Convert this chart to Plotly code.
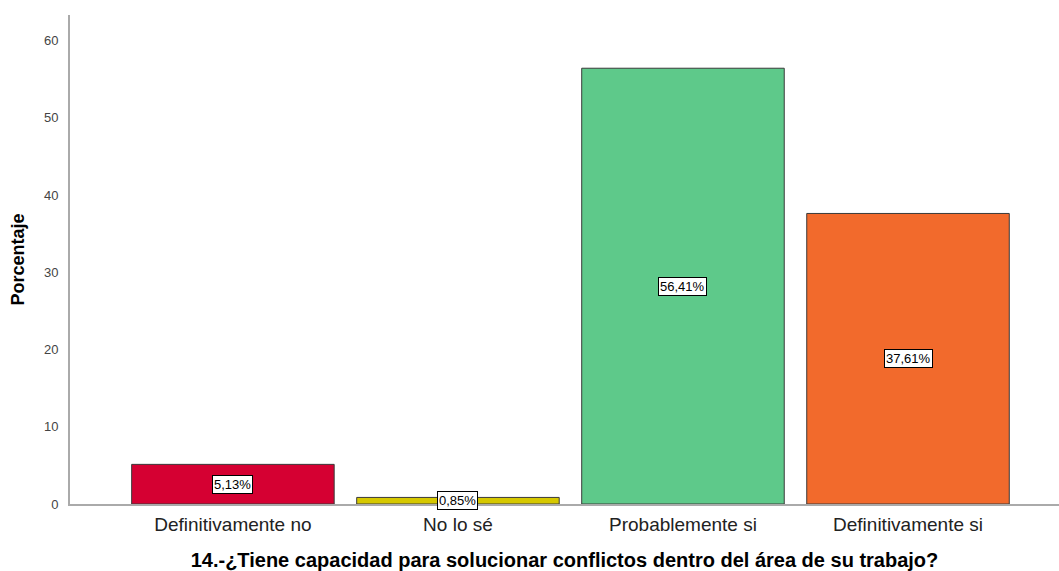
import plotly.graph_objects as go

categorias = ["Definitivamente no", "No lo sé", "Probablemente si", "Definitivamente si"]
porcentajes = [5.13, 0.85, 56.41, 37.61]
colores = ["#D50032", "#D6C800", "#5EC98A", "#F26A2C"]
y_ticks = [0, 10, 20, 30, 40, 50, 60]

FONT = "Liberation Sans, Arial, sans-serif"

idx = list(range(len(categorias)))

fig = go.Figure()
fig.add_trace(go.Bar(
    x=idx,
    y=porcentajes,
    width=0.9,
    marker=dict(color=colores, line=dict(color="#3a3a3a", width=1)),
    hoverinfo="skip",
))

for i, v in zip(idx, porcentajes):
    fig.add_annotation(
        x=i, y=v / 2, xref="x", yref="y",
        text=f"{v:.2f}%".replace(".", ","),
        showarrow=False,
        font=dict(family=FONT, size=13, color="#000000"),
        bgcolor="#ffffff",
        bordercolor="#000000",
        borderwidth=1,
        borderpad=1,
    )

fig.update_layout(
    width=1059,
    height=571,
    margin=dict(l=70, r=0, t=15, b=67, autoexpand=False),
    paper_bgcolor="#ffffff",
    plot_bgcolor="#ffffff",
    showlegend=False,
    font=dict(family=FONT),
    bargap=0.1,
)

fig.update_xaxes(
    range=[-0.724, 3.671],
    tickmode="array",
    tickvals=idx,
    ticktext=categorias,
    tickfont=dict(family=FONT, size=19, color="#222222"),
    showline=True,
    linecolor="#aaaaaa",
    linewidth=2,
    showgrid=False,
    zeroline=False,
    ticks="",
    ticklabelstandoff=2,
    title=dict(
        text="<b>14.-¿Tiene capacidad para solucionar conflictos dentro del área de su trabajo?</b>",
        font=dict(family=FONT, size=20, color="#000000"),
        standoff=20,
    ),
)

fig.update_yaxes(
    range=[0, 63.3],
    tickmode="array",
    tickvals=y_ticks,
    tickfont=dict(family=FONT, size=13, color="#444444"),
    showline=True,
    linecolor="#aaaaaa",
    linewidth=2,
    showgrid=False,
    zeroline=False,
    ticks="",
    ticklabelstandoff=7,
    title=dict(
        text="<b>Porcentaje</b>",
        font=dict(family=FONT, size=18, color="#000000"),
        standoff=15,
    ),
)

fig.write_html("out.html")
